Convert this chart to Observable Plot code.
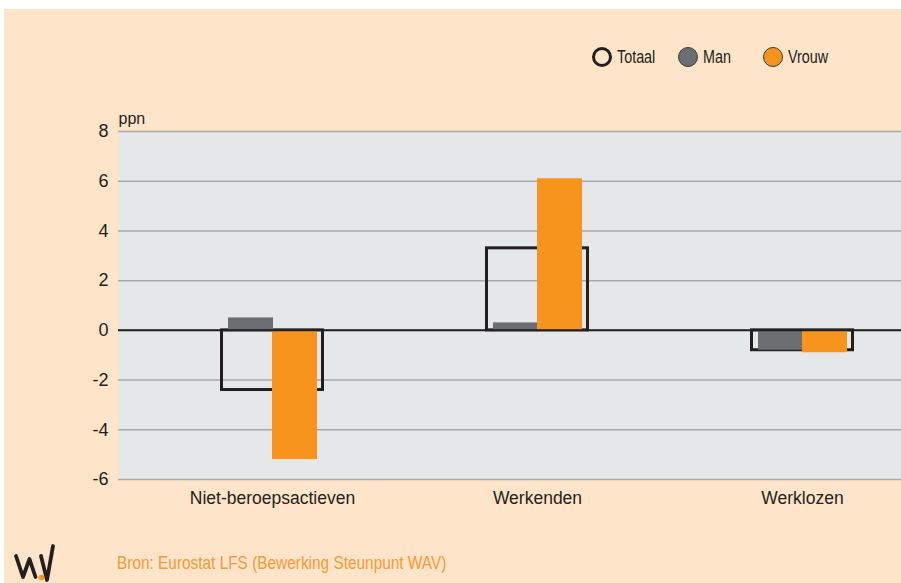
<!DOCTYPE html>
<html>
<head>
<meta charset="utf-8">
<script src="https://cdn.jsdelivr.net/npm/d3@7"></script>
<script src="https://cdn.jsdelivr.net/npm/@observablehq/plot@0.6"></script>
<style>
  html, body { margin: 0; padding: 0; background: #ffffff; width: 901px; height: 583px; overflow: hidden; }
  #page { position: absolute; left: 4px; top: 9px; width: 897px; height: 574px; background: #fee4c8; }
  #chart { position: absolute; left: 0; top: 90px; }
  .narrow { font-family: "Liberation Sans", Arial, sans-serif; }
  #legend { position: absolute; left: 592px; top: 47px; display: flex; align-items: center; height: 20px; }
  .item { display: flex; align-items: center; width: 85.5px; }
  .sw { box-sizing: border-box; width: 20px; height: 20px; border-radius: 50%; flex: none; }
  .lab { display: inline-block; margin-left: 5px; font-size: 17.5px; color: #231f20; line-height: 20px; transform: scaleX(0.82); transform-origin: left center; white-space: nowrap; }
  #footer { position: absolute; left: 117px; top: 552px; font-size: 18px; color: #f39a3b; line-height: 22px; transform: scaleX(0.855); transform-origin: left center; white-space: nowrap; }
  #logo { position: absolute; left: 0; top: 0; }
</style>
</head>
<body>
<div id="page"></div>
<svg id="logo" width="901" height="583" style="pointer-events:none">
  <path d="M16 556 L23 577 L29.5 559 L35.5 577 M41 556 L47 580 L53 546" fill="none" stroke="#231f20" stroke-width="3.8" stroke-linecap="round" stroke-linejoin="round"/>
  <circle cx="41.5" cy="577.5" r="2.8" fill="#f7941d"/>
</svg>
<div id="chart"></div>
<div id="legend" class="narrow"></div>
<div id="footer" class="narrow">Bron: Eurostat LFS (Bewerking Steunpunt WAV)</div>
<script>
const categories = ["Niet-beroepsactieven", "Werkenden", "Werklozen"];
const totaal = [-2.4, 3.3, -0.8];
const man = [0.5, 0.3, -0.8];
const vrouw = [-5.2, 6.1, -0.9];
const yTicks = [-6, -4, -2, 0, 2, 4, 6, 8];
const seriesNames = ["Totaal", "Man", "Vrouw"];
const seriesColors = ["none", "#6d6e71", "#f7941d"];

const rows = (vals) => categories.map((c, i) => ({category: c, value: vals[i]}));

const plot = Plot.plot({
  width: 901,
  height: 440,
  marginLeft: 118,
  marginRight: 0,
  marginTop: 41,
  marginBottom: 51,
  style: {background: "transparent", fontFamily: "'Liberation Sans', Arial, sans-serif", color: "#231f20"},
  x: {type: "band", domain: categories, paddingInner: 0.6075, paddingOuter: 0.281, align: 0.685, label: null},
  y: {domain: [-6, 8], label: null},
  marks: [
    Plot.frame({fill: "#e6e7e8", stroke: null}),
    Plot.ruleY(yTicks, {stroke: "#a7a9ac", strokeWidth: 1.5}),
    Plot.barY(rows(totaal), {x: "category", y: "value", fill: "none", stroke: "#231f20", strokeWidth: 3, insetLeft: 1.5, insetRight: 1.5}),
    Plot.barY(rows(man), {x: "category", y: "value", fill: seriesColors[1], insetLeft: 8, insetRight: 51}),
    Plot.barY(rows(vrouw), {x: "category", y: "value", fill: seriesColors[2], insetLeft: 52, insetRight: 7}),
    Plot.ruleY([0], {stroke: "#231f20", strokeWidth: 2}),
    Plot.axisY({ticks: yTicks, tickSize: 0, tickPadding: 10, tickFormat: d => String(d), fontSize: 18, label: null}),
    Plot.axisX({tickSize: 0, tickPadding: 12, fontSize: 17.5, label: null}),
    Plot.text(["ppn"], {frameAnchor: "top-left", textAnchor: "start", lineAnchor: "bottom", dy: -8, fontSize: 16, fill: "#231f20"})
  ]
});
document.getElementById("chart").appendChild(plot);

const legend = document.getElementById("legend");
seriesNames.forEach((name, i) => {
  const item = document.createElement("div");
  item.className = "item";
  const sw = document.createElement("div");
  sw.className = "sw";
  if (i === 0) {
    sw.style.border = "3px solid #231f20";
    sw.style.background = "transparent";
  } else {
    sw.style.border = "1px solid #3a3a3c";
    sw.style.background = seriesColors[i];
  }
  const lab = document.createElement("span");
  lab.className = "lab";
  lab.textContent = name;
  item.appendChild(sw);
  item.appendChild(lab);
  legend.appendChild(item);
});
</script>
</body>
</html>
